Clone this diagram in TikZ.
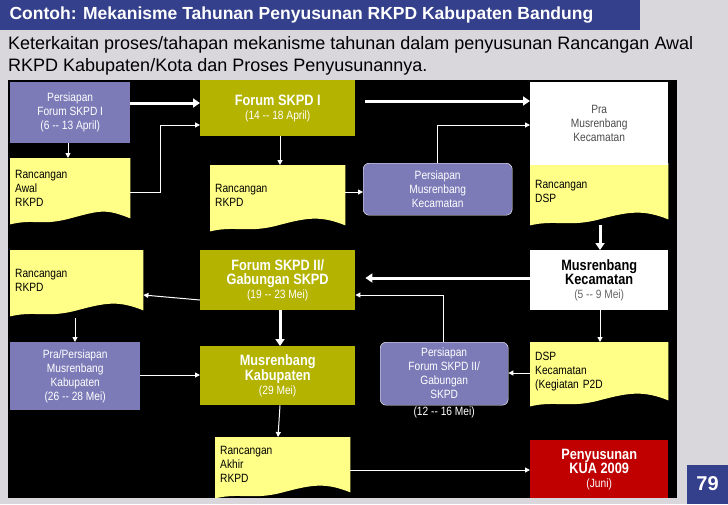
\documentclass[tikz,border=0pt]{standalone}
\usepackage{fontspec}
\setmainfont{Liberation Sans}
\newfontfamily\narrow[FakeStretch=0.85]{Liberation Sans}
\usetikzlibrary{backgrounds,arrows.meta,calc}
\definecolor{purp}{HTML}{7C7BB8}
\definecolor{olive}{HTML}{B3B300}
\definecolor{docy}{HTML}{FFFF88}
\definecolor{kred}{HTML}{C00000}
\definecolor{tbar}{HTML}{34408C}
\definecolor{bgg}{HTML}{D9D6DC}
\newcommand\bigt{\narrow\bfseries\fontsize{15}{16}\selectfont}
\tikzset{
 box/.style={anchor=north west,inner sep=2pt,align=center,text=white,font=\narrow\fontsize{12}{14}\selectfont},
 docn/.style={anchor=north west,inner sep=5pt,align=left,text=black,font=\narrow\fontsize{12}{14}\selectfont},
 thin/.style={draw=white,line width=1pt,-{Triangle[width=5pt,length=5pt]}},
 thick/.style={draw=white,line width=3pt,-{Triangle[width=9pt,length=7pt]}},
}
\newcommand\docshape[1]{\fill[docy] (#1.north west) -- (#1.north east) -- (#1.south east)
 .. controls +(-25,-10) and +(30,-8) .. ($(#1.south west)!0.5!(#1.south east)$)
 .. controls +(-30,8) and +(25,-6) .. ([yshift=-6pt]#1.south west) -- cycle;}
\begin{document}
\begin{tikzpicture}[x=1pt,y=-1pt]
\useasboundingbox (0,0) rectangle (728,504);
\begin{scope}[on background layer]
\fill[bgg] (0,0) rectangle (728,504);
\fill[tbar] (0,0) rectangle (640,30);
\fill[black] (8,80) rectangle (677,498);
\end{scope}
\node[anchor=west,text=white,font=\bfseries\fontsize{17.5}{20}\selectfont] (title) at (6,15) {Contoh: Mekanisme Tahunan Penyusunan RKPD Kabupaten Bandung};
\node[anchor=north west,align=left,inner sep=0pt,font=\fontsize{18}{22}\selectfont] (sub) at (8,36) {Keterkaitan proses/tahapan mekanisme tahunan dalam penyusunan Rancangan Awal\\RKPD Kabupaten/Kota dan Proses Penyusunannya.};

% row 1
\node[box,fill=purp,minimum width=120,minimum height=61] (p1) at (10,82) {Persiapan\\Forum SKPD I\\(6 -- 13 April)};
\node[box,fill=olive,minimum width=155,minimum height=56] (f1) at (200,80) {{\bigt Forum SKPD I}\\(14 -- 18 April)};
\node[box,fill=white,text=black!70,minimum width=138,minimum height=83] (pra) at (530,82) {Pra\\Musrenbang\\Kecamatan};
% row 2
\node[docn,minimum width=120,minimum height=60,text width=110] (d1) at (10,158) {Rancangan\\Awal\\RKPD};
\node[docn,minimum width=135,minimum height=60,text width=125] (d2) at (210,165) {Rancangan\\RKPD};
\node[box,fill=purp,draw=white,rounded corners=6pt,minimum width=149,minimum height=52] (pm) at (363,163) {Persiapan\\Musrenbang\\Kecamatan};
\node[docn,minimum width=138,minimum height=56,text width=128] (d3) at (530,163) {Rancangan\\DSP};
% row 3
\node[docn,minimum width=133,minimum height=60,text width=123] (d4) at (10,250) {Rancangan\\RKPD};
\node[box,fill=olive,minimum width=155,minimum height=60] (f2) at (200,250) {{\bigt Forum SKPD II/}\\{\bigt Gabungan SKPD}\\(19 -- 23 Mei)};
\node[box,fill=white,text=black,minimum width=138,minimum height=60] (mk) at (530,250) {{\bigt Musrenbang}\\{\bigt Kecamatan}\\{\color{black!60}(5 -- 9 Mei)}};
% row 4
\node[box,fill=purp,minimum width=130,minimum height=68] (ppm) at (10,342) {Pra/Persiapan\\Musrenbang\\Kabupaten\\(26 -- 28 Mei)};
\node[box,fill=olive,minimum width=155,minimum height=59] (mkab) at (200,346) {{\bigt Musrenbang}\\{\bigt Kabupaten}\\(29 Mei)};
\node[box,fill=purp,draw=white,rounded corners=6pt,minimum width=128,minimum height=63] (pf2) at (380,342) {Persiapan\\Forum SKPD II/\\Gabungan\\SKPD};
\node[anchor=north,text=white,inner sep=1pt,font=\narrow\fontsize{12}{13}\selectfont] (pf2d) at (pf2.south) {(12 -- 16 Mei)};
\node[docn,minimum width=138,minimum height=58,text width=128] (d5) at (530,342) {DSP\\Kecamatan\\(Kegiatan P2D};
% row 5
\node[docn,minimum width=135,minimum height=55,text width=125] (d6) at (215,437) {Rancangan\\Akhir\\RKPD};
\node[box,fill=kred,minimum width=138,minimum height=58] (kua) at (530,440) {{\bigt Penyusunan}\\{\bigt KUA 2009}\\(Juni)};
\fill[tbar] (687,465) rectangle (728,504);
\node[text=white,font=\bfseries\fontsize{20}{22}\selectfont] (pg) at (707.5,484) {79};

\begin{scope}[on background layer]
\docshape{d1}\docshape{d2}\docshape{d3}\docshape{d4}\docshape{d5}\docshape{d6}
\end{scope}

% connectors
\draw[thick] (p1.east |- 0,103) -- (f1.west |- 0,103);
\draw[thick] ([xshift=10pt]f1.east |- 0,101) -- (pra.west |- 0,101);
\draw[thin] (p1.south -| 68,0) -- (d1.north -| 68,0);
\draw[thin] (d1.east |- 0,192) -| (160,125) -- (f1.west |- 0,125);
\draw[thin] (f1.south -| 280,0) -- (d2.north -| 280,0);
\draw[thin] (d2.east |- 0,192) -- (pm.west |- 0,192);
\draw[thin] (pm.north -| 437,0) |- (pra.west |- 0,125);
\draw[draw=white,line width=1pt] (pra.south -| 600,0) -- (d3.north -| 600,0);
\draw[thick] (600,225) -- (mk.north -| 600,0);
\draw[thick] (mk.west |- 0,278) -- ([xshift=10pt]f2.east |- 0,278);
\draw[thin] (pf2.north -| 443,0) |- (f2.east |- 0,295);
\draw[thin] (f2.west |- 0,300) -- (d4.east |- 0,295);
\draw[thin] (75,318) -- (ppm.north -| 75,0);
\draw[thick] (f2.south -| 280,0) -- (mkab.north -| 280,0);
\draw[thin] (ppm.east |- 0,375) -- (mkab.west |- 0,375);
\draw[thin] (mk.south -| 600,0) -- (d5.north -| 600,0);
\draw[thin] (d5.west |- 0,373) -- (pf2.east |- 0,373);
\draw[thin] (mkab.south -| 280,0) -- (d6.north -| 278,0);
\draw[thin] (d6.east |- 0,470) -- (kua.west |- 0,470);
\end{tikzpicture}
\end{document}
